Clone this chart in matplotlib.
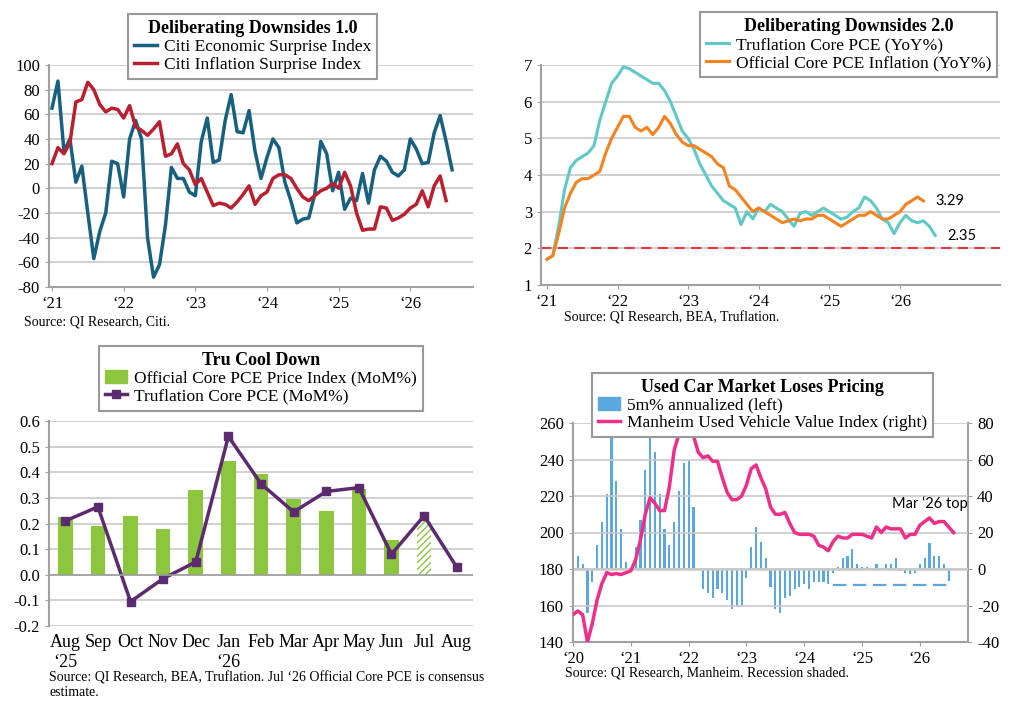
import numpy as np
import matplotlib
matplotlib.use("Agg")
import matplotlib.pyplot as plt
from matplotlib.patches import Patch

plt.rcParams["font.family"] = ["Liberation Serif", "DejaVu Serif"]
plt.rcParams["font.size"] = 11
plt.rcParams["axes.unicode_minus"] = False

# ---- panel 1: Citi surprise indices (monthly from Jan '21)
citi_econ = [65, 87, 30, 40, 5, 18, -20, -57, -35, -20, 22, 20, -7, 40, 55, 40, -40, -72,
             -62, -30, 17, 8, 8, -3, -6, 38, 57, 21, 23, 55, 76, 46, 45, 63, 30, 8, 25, 40,
             33, 5, -10, -28, -25, -24, -5, 38, 28, -2, 13, -17, -8, -10, 12, -12, 15, 26,
             22, 13, 10, 15, 40, 32, 20, 21, 45, 59, 38, 15]
citi_infl = [20, 33, 28, 37, 70, 72, 86, 80, 68, 62, 65, 64, 57, 67, 50, 47, 43, 48, 54, 26,
             28, 36, 20, 15, 3, 8, -3, -14, -12, -13, -16, -11, -5, 2, -13, -6, -3, 8, 11,
             11, 8, 0, -7, -10, -6, -2, 0, 4, 0, 13, 2, -20, -34, -33, -33, -15, -16, -26,
             -24, -21, -16, -13, -2, -15, 2, 10, -10]

# ---- panel 2: core PCE YoY (monthly from Jan '21)
truflation_pce = [1.7, 1.8, 2.6, 3.6, 4.2, 4.4, 4.5, 4.6, 4.8, 5.5, 6.0, 6.5, 6.7, 6.95, 6.9,
                  6.8, 6.7, 6.6, 6.5, 6.5, 6.3, 6.0, 5.6, 5.2, 5.0, 4.7, 4.3, 4.0, 3.7, 3.5,
                  3.3, 3.2, 3.1, 2.65, 3.0, 2.8, 3.1, 3.0, 3.2, 3.1, 3.0, 2.8, 2.6, 2.95,
                  3.0, 2.9, 3.0, 3.1, 3.0, 2.9, 2.8, 2.85, 3.0, 3.1, 3.4, 3.3, 3.1, 2.8, 2.7,
                  2.4, 2.7, 2.9, 2.75, 2.7, 2.75, 2.6, 2.35]
official_pce = [1.7, 1.8, 2.4, 3.1, 3.5, 3.8, 3.9, 3.9, 4.0, 4.1, 4.6, 5.0, 5.3, 5.6, 5.6,
                5.3, 5.2, 5.3, 5.1, 5.3, 5.6, 5.4, 5.1, 4.9, 4.8, 4.8, 4.7, 4.6, 4.5, 4.3,
                4.2, 3.7, 3.6, 3.4, 3.2, 3.0, 3.1, 3.0, 2.9, 2.8, 2.7, 2.75, 2.8, 2.75, 2.8,
                2.8, 2.9, 2.9, 2.8, 2.7, 2.6, 2.7, 2.8, 2.9, 2.9, 3.0, 2.9, 2.8, 2.8, 2.9,
                3.0, 3.2, 3.3, 3.4, 3.29]

# ---- panel 3: monthly core PCE, MoM%
months3 = ["Aug\n‘25", "Sep", "Oct", "Nov", "Dec", "Jan\n‘26", "Feb", "Mar", "Apr", "May",
           "Jun", "Jul", "Aug"]
official_mom = [0.225, 0.19, 0.23, 0.18, 0.33, 0.445, 0.395, 0.295, 0.25, 0.335, 0.135, 0.21, np.nan]
truflation_mom = [0.21, 0.265, -0.105, -0.015, 0.05, 0.54, 0.355, 0.245, 0.325, 0.34, 0.08, 0.23, 0.03]

# ---- panel 4: Manheim (monthly from Jan '20)
manheim = [155, 157, 155, 140, 150, 163, 172, 178, 177, 177.5, 177, 178, 179, 185, 196, 210,
           219, 216, 212, 212, 225, 245, 254, 258, 258, 253, 244, 241, 242, 239, 239, 230,
           222, 218, 218, 220, 226, 235, 237, 230, 224, 214, 210, 210, 211, 205, 200, 199,
           199, 199, 198, 193, 192, 190, 195, 198, 197, 197, 199, 199, 199, 198, 197, 203,
           200, 203, 202, 202, 202, 197, 199, 199, 204, 206, 208, 205, 206, 206, 203, 200]
fivem_ann = [0, 7, 3, -24, -7, 13, 26, 41, 80, 48, 22, 4, 0, 12, 27, 54, 74, 64, 41, 22, 13,
             26, 43, 58, 59, 34, 0, -11, -13, -16, -11, -13, -17, -22, -21, -20, -5, 12, 23,
             15, 6, -10, -22, -24, -16, -15, -11, -10, -8, -11, -7, -7, -7, -8, -2, 1, 6, 7,
             11, 3, 1, 1, 0, 3, 0, 3, 3, 6, -1, -2, -3, -2, 3, 6, 14, 7, 7, 3, -3]

GRID = "#c8c8c8"
SPINE = "#a0a0a0"
FS = 12.5


def style(ax):
    ax.grid(axis="y", color=GRID, lw=1.2)
    ax.set_axisbelow(True)
    for s in ["top", "right"]:
        ax.spines[s].set_visible(False)
    for s in ["left", "bottom"]:
        ax.spines[s].set_color(SPINE)
        ax.spines[s].set_linewidth(1.5)
    ax.tick_params(colors="black", length=3, color=SPINE, labelsize=12)


def box_legend(ax, handles, labels, title, anchor):
    leg = ax.legend(handles, labels, title=title, loc="upper center", bbox_to_anchor=anchor,
                    frameon=True, fancybox=False, fontsize=FS, handlelength=1.3,
                    handletextpad=0.4, borderpad=0.35, labelspacing=0.1, framealpha=1)
    leg.get_title().set_fontweight("bold")
    leg.get_title().set_fontsize(13)
    leg.get_frame().set_edgecolor("#999999")
    leg.get_frame().set_linewidth(1.5)
    leg.set_zorder(10)
    return leg


def year_ticks(ax, start, n):
    ax.set_xticks(np.arange(n) * 12)
    ax.set_xticklabels(["‘%d" % (start + i) for i in range(n)])


fig = plt.figure(figsize=(10.24, 7.13), dpi=100)
W, H = 1024, 713


def add_ax(x0, y0, x1, y1):
    return fig.add_axes([x0 / W, 1 - y1 / H, (x1 - x0) / W, (y1 - y0) / H])


# panel 1
ax1 = add_ax(49, 65, 473, 287)
style(ax1)
l1, = ax1.plot(np.arange(len(citi_econ)), citi_econ, color="#17607f", lw=2.5)
l2, = ax1.plot(np.arange(len(citi_infl)), citi_infl, color="#b8202f", lw=2.5)
ax1.set_ylim(-80, 100)
ax1.set_yticks(range(-80, 101, 20))
ax1.set_xlim(-0.5, 70.5)
year_ticks(ax1, 21, 6)
box_legend(ax1, [l1, l2], ["Citi Economic Surprise Index", "Citi Inflation Surprise Index"],
           "Deliberating Downsides 1.0", (0.48, 1.27))
ax1.text(-0.06, -0.13, "Source: QI Research, Citi.", transform=ax1.transAxes, fontsize=10,
         va="top")

# panel 2
ax2 = add_ax(541, 65, 1000, 285)
style(ax2)
l3, = ax2.plot(np.arange(len(truflation_pce)), truflation_pce, color="#5fc9c6", lw=2.2)
l4, = ax2.plot(np.arange(len(official_pce)), official_pce, color="#f58220", lw=2.2)
ax2.axhline(2, color="#e8383d", lw=1.5, ls=(0, (5, 3)))
ax2.set_ylim(1, 7)
ax2.set_xlim(-1, 77)
year_ticks(ax2, 21, 6)
ax2.text(len(official_pce) + 1, official_pce[-1], "3.29", va="center", fontsize=10.5,
         family=["Lato", "DejaVu Sans"])
ax2.text(len(truflation_pce) + 1, truflation_pce[-1], "2.35", va="center", fontsize=10.5,
         family=["Lato", "DejaVu Sans"])
box_legend(ax2, [l3, l4], ["Truflation Core PCE (YoY%)", "Official Core PCE Inflation (YoY%)"],
           "Deliberating Downsides 2.0", (0.67, 1.28))
ax2.text(0.05, -0.12, "Source: QI Research, BEA, Truflation.", transform=ax2.transAxes,
         fontsize=10, va="top")

# panel 3
ax3 = add_ax(49, 421, 473, 626)
style(ax3)
x3 = np.arange(len(months3))
green = "#8cc63f"
bars = ax3.bar(x3, official_mom, width=0.45, color=green)
bars[11].set_facecolor("white")
bars[11].set_edgecolor(green)
bars[11].set_hatch("/////")
bars[11].set_linewidth(0)
l5, = ax3.plot(x3, truflation_mom, color="#5c2a6e", lw=2.5, marker="s", ms=6, clip_on=False)
ax3.set_ylim(-0.2, 0.6)
ax3.set_yticks(np.round(np.arange(-0.2, 0.61, 0.1), 1))
ax3.set_yticklabels(["%.1f" % v for v in np.arange(-0.2, 0.61, 0.1)])
ax3.set_xlim(-0.5, 12.5)
ax3.set_xticks(x3)
ax3.set_xticklabels(months3, va="top", fontsize=13)
ax3.tick_params(axis="x", length=0, pad=6)
ax3.axhline(0, color=SPINE, lw=1.2)
ax3.spines["bottom"].set_visible(False)
box_legend(ax3, [Patch(color=green), l5],
           ["Official Core PCE Price Index (MoM%)", "Truflation Core PCE (MoM%)"],
           "Tru Cool Down", (0.5, 1.41))
ax3.text(0.0, -0.22, "Source: QI Research, BEA, Truflation. Jul ‘26 Official Core PCE is consensus\nestimate.",
         transform=ax3.transAxes, fontsize=10, va="top")

# panel 4
ax4 = add_ax(573, 423, 968, 642)
style(ax4)
ax4r = ax4.twinx()
for s in ["top", "left", "bottom"]:
    ax4r.spines[s].set_visible(False)
ax4r.spines["right"].set_color(SPINE)
ax4r.spines["right"].set_linewidth(1.5)
ax4r.tick_params(length=3, color=SPINE, labelsize=12)
blue = "#5ca7e0"
ax4r.bar(np.arange(len(fivem_ann)), fivem_ann, width=0.45, color=blue)
ax4r.plot([54, 78, 78], [-8.5, -8.5, 0], color=blue, lw=1.6, ls=(0, (6, 3)))
ax4r.set_ylim(-40, 80)
ax4r.set_yticks(range(-40, 81, 20))
l6, = ax4.plot(np.arange(len(manheim)), manheim, color="#ee2f8a", lw=2.5, zorder=5)
ax4.axhline(180, color=GRID, lw=1.8)
ax4.set_zorder(ax4r.get_zorder() + 1)
ax4.patch.set_visible(False)
ax4.set_ylim(140, 260)
ax4.set_yticks(range(140, 261, 20))
ax4.set_xlim(0, 82)
year_ticks(ax4, 20, 7)
ax4.text(74, 212, "Mar ‘26 top", ha="center", va="bottom", fontsize=10.5,
         family=["Lato", "DejaVu Sans"])
box_legend(ax4, [Patch(color=blue), l6],
           ["5m% annualized (left)", "Manheim Used Vehicle Value Index (right)"],
           "Used Car Market Loses Pricing", (0.48, 1.27))
ax4.text(-0.02, -0.11, "Source: QI Research, Manheim. Recession shaded.", transform=ax4.transAxes,
         fontsize=10, va="top")

fig.savefig("out.png", dpi=100, facecolor="white")
